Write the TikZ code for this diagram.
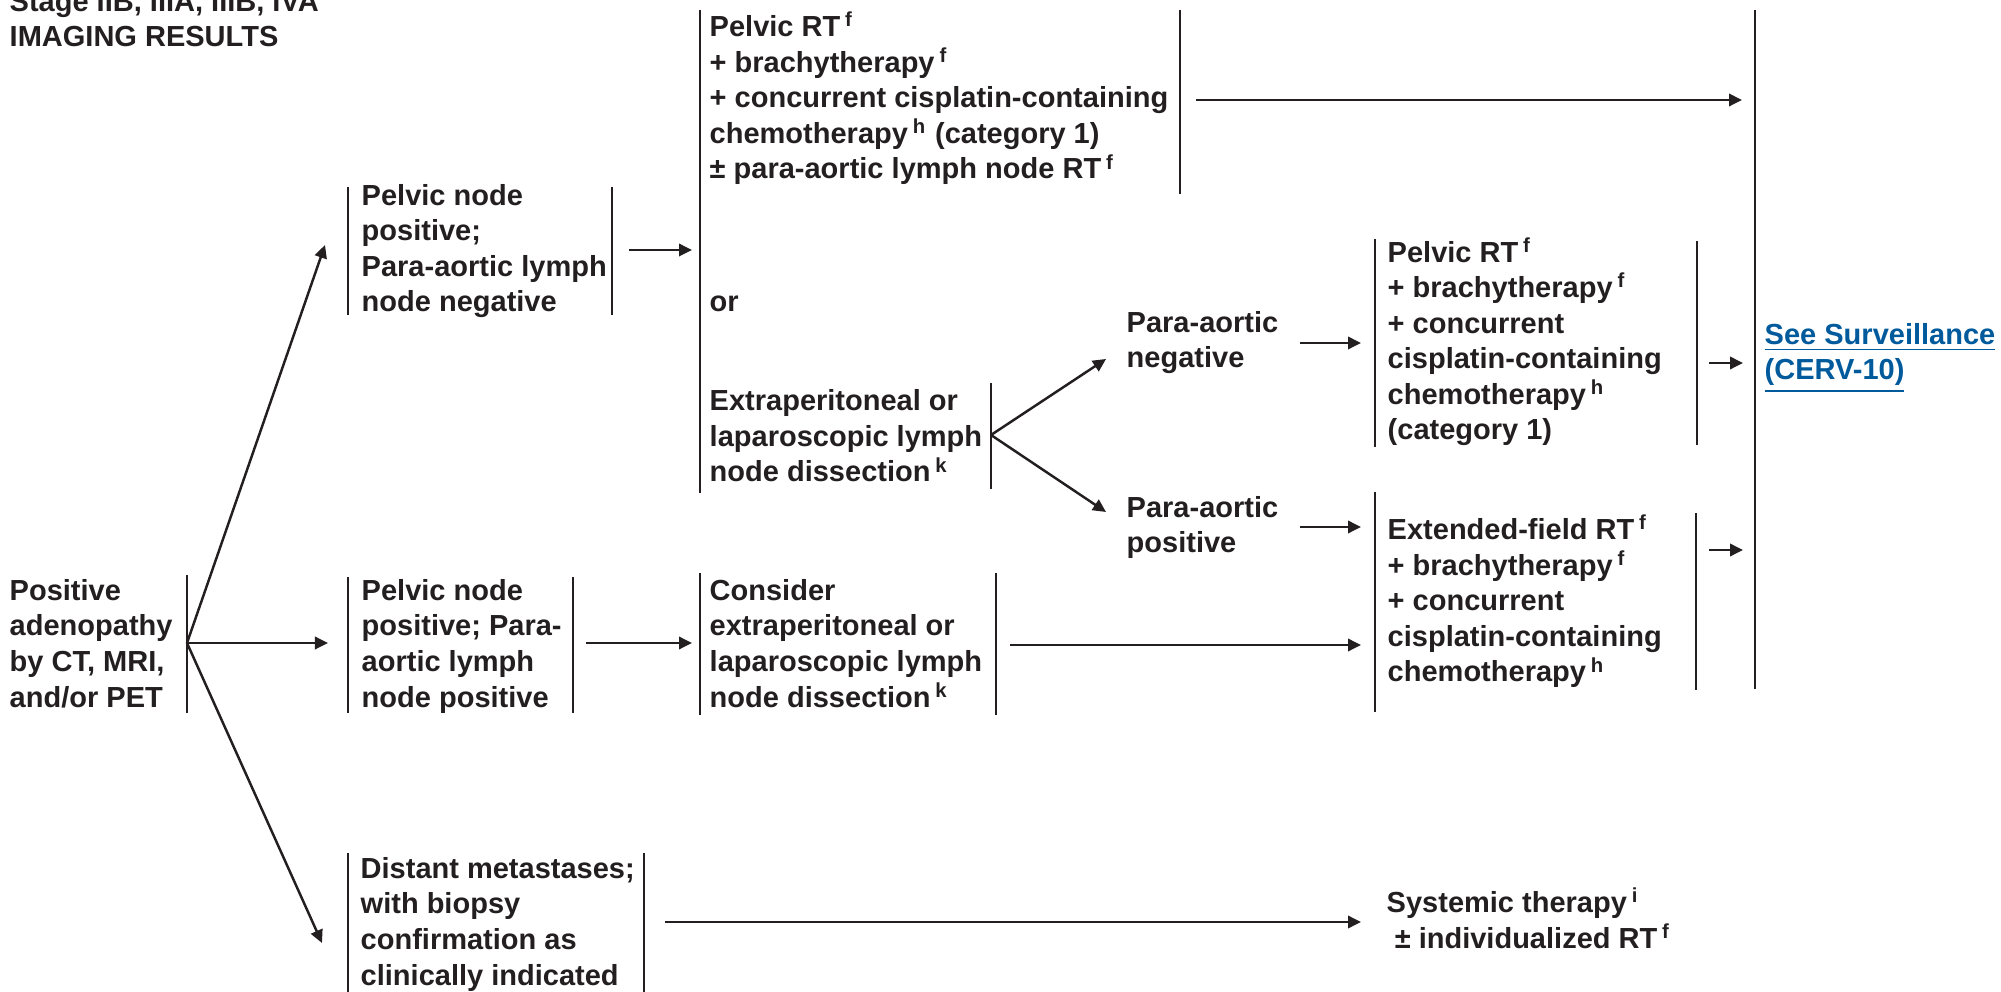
\documentclass[tikz,border=0pt]{standalone}
\usepackage{fontspec}
\setmainfont{Liberation Sans}
\usetikzlibrary{arrows.meta}

\definecolor{ink}{RGB}{35,31,32}
\definecolor{linkblue}{RGB}{0,90,156}
\newcommand{\fn}[1]{\,\textsuperscript{#1}}

\begin{document}
\begin{tikzpicture}[x=0.01cm, y=-0.01cm,
  every node/.style={font=\fontsize{8.25}{10.1}\selectfont\bfseries, text=ink, inner sep=0pt},
  txt/.style={anchor=base west, align=left},
  bar/.style={draw=ink, line width=0.7pt},
  arr/.style={draw=ink, line width=0.7pt, -{Triangle[length=3.7pt, width=3.5pt]}}]

  \useasboundingbox (0,0) rectangle (2001,992);

  %% Heading (placed by the baseline of its last line)
  \node[txt] (title) at (9,47) {Stage IIB, IIIA, IIIB, IVA\\IMAGING RESULTS};

  %% Column 1: imaging finding
  \node[txt] (root) at (9,707) {Positive\\adenopathy\\by CT, MRI,\\and/or PET};
  \draw[bar] (187,575) -- (187,713);
  \coordinate (split) at (187,643);

  %% Column 2: nodal status
  \node[txt] (pneg) at (361,312) {Pelvic node\\positive;\\Para-aortic lymph\\node negative};
  \draw[bar] (348,187) -- (348,315);
  \draw[bar] (612,187) -- (612,315);

  \node[txt] (ppos) at (361,707) {Pelvic node\\positive; Para-\\aortic lymph\\node positive};
  \draw[bar] (348,577) -- (348,713);
  \draw[bar] (573,577) -- (573,713);

  \node[txt] (dist) at (360,985) {Distant metastases;\\with biopsy\\confirmation as\\clinically indicated};
  \draw[bar] (348,853) -- (348,1000);
  \draw[bar] (644,853) -- (644,1000);

  % arrows out of the finding
  \coordinate (pnegIn) at (325,245);
  \coordinate (pposIn) at (328,643);
  \coordinate (distIn) at (322,943);
  \draw[arr] (split) -- (pnegIn);
  \draw[arr] (split) -- (pposIn);
  \draw[arr] (split) -- (distIn);

  %% Column 3: primary treatment / staging
  \node[txt] (prt) at (709,179) {Pelvic RT\fn{f}\\+ brachytherapy\fn{f}\\+ concurrent cisplatin-containing\\chemotherapy\fn{h} (category 1)\\± para-aortic lymph node RT\fn{f}};
  \node[txt] (or) at (709,312) {or};
  \node[txt] (ext) at (709,482) {Extraperitoneal or\\laparoscopic lymph\\node dissection\fn{k}};
  \draw[bar] (700,10) -- (700,493);
  \draw[bar] (1180,10) -- (1180,194);
  \draw[bar] (991,383) -- (991,489);

  \node[txt] (cons) at (709,707) {Consider\\extraperitoneal or\\laparoscopic lymph\\node dissection\fn{k}};
  \draw[bar] (700,573) -- (700,715);
  \draw[bar] (996,573) -- (996,715);

  \coordinate (pnegOut) at (629,250);
  \coordinate (optIn) at (692,250);
  \draw[arr] (pnegOut) -- (optIn);
  \coordinate (pposOut) at (586,643);
  \coordinate (consIn) at (692,643);
  \draw[arr] (pposOut) -- (consIn);

  %% Column 4: para-aortic result
  \node[txt] (paneg) at (1126,368) {Para-aortic\\negative};
  \node[txt] (papos) at (1126,553) {Para-aortic\\positive};
  \coordinate (extOut) at (991,435);
  \coordinate (panegIn) at (1106,359);
  \coordinate (paposIn) at (1106,512);
  \draw[arr] (extOut) -- (panegIn);
  \draw[arr] (extOut) -- (paposIn);

  %% Column 5: adjuvant treatment
  \node[txt] (prt2) at (1387,440) {Pelvic RT\fn{f}\\+ brachytherapy\fn{f}\\+ concurrent\\cisplatin-containing\\chemotherapy\fn{h}\\(category 1)};
  \draw[bar] (1375,239) -- (1375,447);
  \draw[bar] (1697,241) -- (1697,445);

  \node[txt] (eft) at (1387,682) {Extended-field RT\fn{f}\\+ brachytherapy\fn{f}\\+ concurrent\\cisplatin-containing\\chemotherapy\fn{h}};
  \draw[bar] (1375,492) -- (1375,712);
  \draw[bar] (1696,513) -- (1696,690);

  \node[txt] (sys) at (1386,948) {Systemic therapy\fn{i}\\\ ± individualized RT\fn{f}};

  \coordinate (panegOut) at (1300,343);
  \coordinate (prt2In) at (1361,343);
  \draw[arr] (panegOut) -- (prt2In);
  \coordinate (paposOut) at (1300,527);
  \coordinate (eftIn) at (1361,527);
  \draw[arr] (paposOut) -- (eftIn);
  \coordinate (consOut) at (1010,645);
  \coordinate (eftIn2) at (1361,645);
  \draw[arr] (consOut) -- (eftIn2);
  \coordinate (distOut) at (665,922);
  \coordinate (sysIn) at (1361,922);
  \draw[arr] (distOut) -- (sysIn);

  %% Column 6: follow-up
  \draw[bar] (1755,10) -- (1755,689);
  \node[txt, text=linkblue] (surv) at (1764,380) {\underline{See Surveillance}\\\underline{(CERV-10)}};

  \coordinate (prtOut) at (1196,100);
  \coordinate (survIn1) at (1742,100);
  \draw[arr] (prtOut) -- (survIn1);
  \coordinate (prt2Out) at (1709,363);
  \coordinate (survIn2) at (1743,363);
  \draw[arr] (prt2Out) -- (survIn2);
  \coordinate (eftOut) at (1709,550);
  \coordinate (survIn3) at (1743,550);
  \draw[arr] (eftOut) -- (survIn3);

\end{tikzpicture}
\end{document}
